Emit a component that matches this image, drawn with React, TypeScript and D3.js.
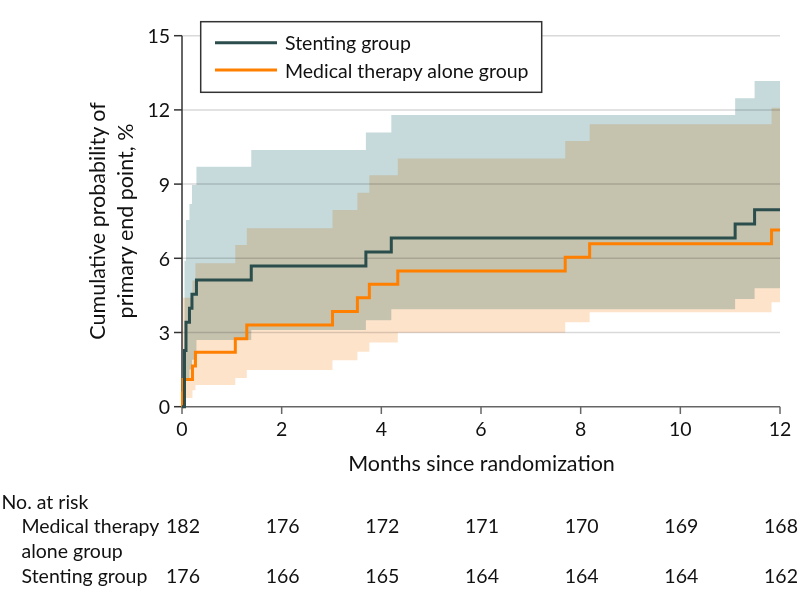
import React from 'react';
import * as d3 from 'd3';

// Kaplan-Meier style cumulative incidence
const stentTimes = [0, 0.05, 0.08, 0.15, 0.2, 0.29, 1.39, 3.69, 4.2, 11.1, 11.49, 12];
const stentEst = [0, 2.27, 3.41, 3.98, 4.55, 5.12, 5.69, 6.25, 6.82, 7.39, 7.96, 7.96];
const stentLow = [0, 0.5, 1.1, 1.5, 1.9, 2.7, 3.1, 3.5, 3.94, 4.35, 4.79, 4.79];
const stentHigh = [0, 5.9, 7.55, 8.2, 8.96, 9.7, 10.38, 11.09, 11.79, 12.47, 13.17, 13.17];

const medTimes = [0, 0.01, 0.02, 0.21, 0.27, 1.07, 1.3, 3.02, 3.52, 3.76, 4.33, 7.69, 8.18, 11.83, 12];
const medEst = [0, 0.55, 1.1, 1.65, 2.2, 2.75, 3.3, 3.85, 4.4, 4.95, 5.49, 6.04, 6.59, 7.14, 7.14];
const medLow = [0, 0, 0.35, 0.67, 0.88, 1.16, 1.48, 1.88, 2.22, 2.6, 2.99, 3.41, 3.82, 4.22, 4.22];
const medHigh = [0, 2.5, 4.4, 5.1, 5.8, 6.54, 7.21, 7.95, 8.65, 9.36, 10.04, 10.74, 11.42, 12.09, 12.09];

const xTicks = [0, 2, 4, 6, 8, 10, 12];
const yTicks = [0, 3, 6, 9, 12, 15];
const atRiskMedical = [182, 176, 172, 171, 170, 169, 168];
const atRiskStent = [176, 166, 165, 164, 164, 164, 162];

const FONT = 'Lato, "DejaVu Sans", sans-serif';
const FS = 19.5;
const TITLE_FS = 21.5;
const STENT = '#2b4e4d';
const MED = '#ff8000';

type Pt = { t: number; v: number; lo: number; hi: number };

const zipSeries = (t: number[], v: number[], lo: number[], hi: number[]): Pt[] =>
  t.map((d, i) => ({ t: d, v: v[i], lo: lo[i], hi: hi[i] }));

export default function App() {
  const x = d3.scaleLinear().domain([0, 12]).range([182, 780]);
  const y = d3.scaleLinear().domain([0, 15]).range([406.7, 35.7]);

  const stent = zipSeries(stentTimes, stentEst, stentLow, stentHigh);
  const med = zipSeries(medTimes, medEst, medLow, medHigh);

  const line = d3
    .line<Pt>()
    .x((d) => x(d.t))
    .y((d) => y(d.v))
    .curve(d3.curveStepAfter);

  const band = d3
    .area<Pt>()
    .x((d) => x(d.t))
    .y0((d) => y(d.lo))
    .y1((d) => y(d.hi))
    .curve(d3.curveStepAfter);

  const rows = [
    { label: ['Medical therapy', 'alone group'], values: atRiskMedical, y: 533 },
    { label: ['Stenting group'], values: atRiskStent, y: 582.5 },
  ];

  return (
    <svg
      width={798}
      height={604}
      style={{ position: 'absolute', left: 0, top: 0 }}
      fontFamily={FONT}
      fontSize={FS}
    >
      <rect width={798} height={604} fill="#fff" />

      {/* gridlines */}
      {yTicks.filter((d) => d > 0).map((d) => (
        <line key={d} x1={x(0)} x2={x(12)} y1={y(d)} y2={y(d)} stroke="#d9d9d9" strokeWidth={1.5} />
      ))}

      {/* confidence bands */}
      <path d={band(med) || ''} fill="#fee3cb" style={{ mixBlendMode: 'multiply' }} />
      <path d={band(stent) || ''} fill="#c6dadb" style={{ mixBlendMode: 'multiply' }} />

      {/* y axis */}
      <line x1={182} x2={182} y1={y(15)} y2={y(0)} stroke="#333" strokeWidth={1.5} />
      {yTicks.map((d) => (
        <g key={d} transform={`translate(0,${y(d)})`}>
          <line x1={174} x2={182} stroke="#333" strokeWidth={1.5} />
          <text x={170} textAnchor="end" dominantBaseline="central" fill="#111">
            {d}
          </text>
        </g>
      ))}

      {/* x axis */}
      <line x1={x(0)} x2={x(12)} y1={406.7} y2={406.7} stroke="#666" strokeWidth={1.5} />
      {xTicks.map((d) => (
        <g key={d} transform={`translate(${x(d)},0)`}>
          <line y1={406.7} y2={414} stroke="#666" strokeWidth={1.5} />
          <text y={436} textAnchor="middle" fill="#111">
            {d}
          </text>
        </g>
      ))}
      <text x={481.5} y={471} textAnchor="middle" fill="#111" fontSize={TITLE_FS}>
        Months since randomization
      </text>

      {/* y axis title */}
      <g transform="translate(97,221) rotate(-90)">
        <text textAnchor="middle" dominantBaseline="central" fill="#111" fontSize={TITLE_FS}>
          Cumulative probability of
        </text>
      </g>
      <g transform="translate(125,221) rotate(-90)">
        <text textAnchor="middle" dominantBaseline="central" fill="#111" fontSize={TITLE_FS}>
          primary end point, %
        </text>
      </g>

      {/* curves */}
      <path d={line(med) || ''} fill="none" stroke={MED} strokeWidth={3} />
      <path d={line(stent) || ''} fill="none" stroke={STENT} strokeWidth={3} />

      {/* legend */}
      <rect x={200.7} y={21.7} width={341} height={70.6} fill="#fff" stroke="#333" strokeWidth={1.5} />
      <line x1={215} x2={277} y1={42.7} y2={42.7} stroke={STENT} strokeWidth={3} />
      <text x={285} y={42.7} dominantBaseline="central" fill="#111">
        Stenting group
      </text>
      <line x1={215} x2={277} y1={70} y2={70} stroke={MED} strokeWidth={3} />
      <text x={285} y={70} dominantBaseline="central" fill="#111">
        Medical therapy alone group
      </text>

      {/* number at risk */}
      <text x={1.5} y={509} fill="#111">
        No. at risk
      </text>
      {rows.map((r) => (
        <g key={r.label[0]}>
          {r.label.map((l, i) => (
            <text key={l} x={21.5} y={r.y + i * 24.5} fill="#111">
              {l}
            </text>
          ))}
          {r.values.map((v, i) => (
            <text key={i} x={x(xTicks[i]) + 1} y={r.y} textAnchor="middle" fill="#111">
              {v}
            </text>
          ))}
        </g>
      ))}
    </svg>
  );
}
